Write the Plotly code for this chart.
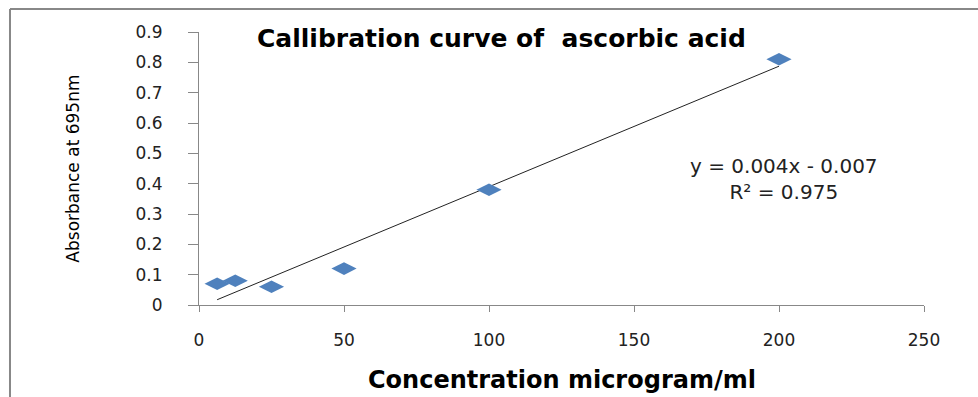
import numpy as np
import plotly.graph_objects as go

concentration = [6.25, 12.5, 25, 50, 100, 200]
absorbance = [0.07, 0.08, 0.06, 0.12, 0.38, 0.81]
x_ticks = [0, 50, 100, 150, 200, 250]
y_ticks = [0, 0.1, 0.2, 0.3, 0.4, 0.5, 0.6, 0.7, 0.8, 0.9]
y_ticktext = ["0", "0.1", "0.2", "0.3", "0.4", "0.5", "0.6", "0.7", "0.8", "0.9"]
title_text = "Callibration curve of  ascorbic acid"
x_title = "Concentration microgram/ml"
y_title = "Absorbance at 695nm"
equation_text = "y = 0.004x - 0.007<br>R² = 0.975"

slope, intercept = np.polyfit(concentration, absorbance, 1)
trend_x = [min(concentration), max(concentration)]
trend_y = [slope * v + intercept for v in trend_x]

fig = go.Figure()
fig.add_trace(go.Scatter(x=trend_x, y=trend_y, mode="lines",
                         line=dict(color="#222222", width=1), hoverinfo="skip",
                         showlegend=False))
fig.add_trace(go.Scatter(x=concentration, y=absorbance, mode="markers",
                         marker=dict(symbol="diamond-wide", size=18, color="#4F81BD",
                                     line=dict(width=0)),
                         showlegend=False))

axis_font = dict(family="DejaVu Sans", size=17, color="#222222")
fig.update_xaxes(range=[0, 250], tickvals=x_ticks, ticks="outside", ticklen=6,
                 tickcolor="#888888", showline=True, linecolor="#888888", linewidth=1,
                 showgrid=False, zeroline=False, tickfont=axis_font, ticklabelstandoff=14)
fig.update_yaxes(range=[0, 0.9], tickvals=y_ticks, ticktext=y_ticktext, ticks="outside",
                 ticklen=10, tickcolor="#888888", showline=True, linecolor="#888888",
                 linewidth=1, showgrid=False, zeroline=False, tickfont=axis_font,
                 ticklabelstandoff=22)

fig.add_annotation(text=title_text, xref="paper", yref="paper", x=0.4166, y=0.978,
                   xanchor="center", yanchor="middle", showarrow=False,
                   font=dict(family="DejaVu Sans", size=25, color="#000000", weight="bold"))
fig.add_annotation(text=x_title, xref="paper", yref="paper", x=0.5, y=-0.2747,
                   xanchor="center", yanchor="middle", showarrow=False,
                   font=dict(family="DejaVu Sans", size=24, color="#000000", weight="bold"))
fig.add_annotation(text=y_title, xref="paper", yref="paper", x=-0.175, y=0.5,
                   xanchor="center", yanchor="middle", showarrow=False, textangle=-90,
                   font=dict(family="Liberation Sans Narrow, DejaVu Sans", size=17,
                             color="#000000"))
fig.add_annotation(text=equation_text, xref="paper", yref="paper", x=0.807, y=0.4615,
                   xanchor="center", yanchor="middle", showarrow=False, align="center",
                   font=dict(family="DejaVu Sans", size=20, color="#222222"))

fig.add_shape(type="line", xref="paper", yref="paper", x0=-0.2607, x1=1.0745,
              y0=1.0842, y1=1.0842, line=dict(color="#888888", width=2))
fig.add_shape(type="line", xref="paper", yref="paper", x0=-0.2607, x1=-0.2607,
              y0=1.0842, y1=-0.34, line=dict(color="#888888", width=2))

fig.update_layout(width=978, height=397, margin=dict(l=199, r=54, t=32, b=92),
                  plot_bgcolor="white", paper_bgcolor="white")
fig.write_html("out.html", config={"displayModeBar": False},
               post_script="document.body.style.margin='0';document.body.style.overflow='hidden';")
